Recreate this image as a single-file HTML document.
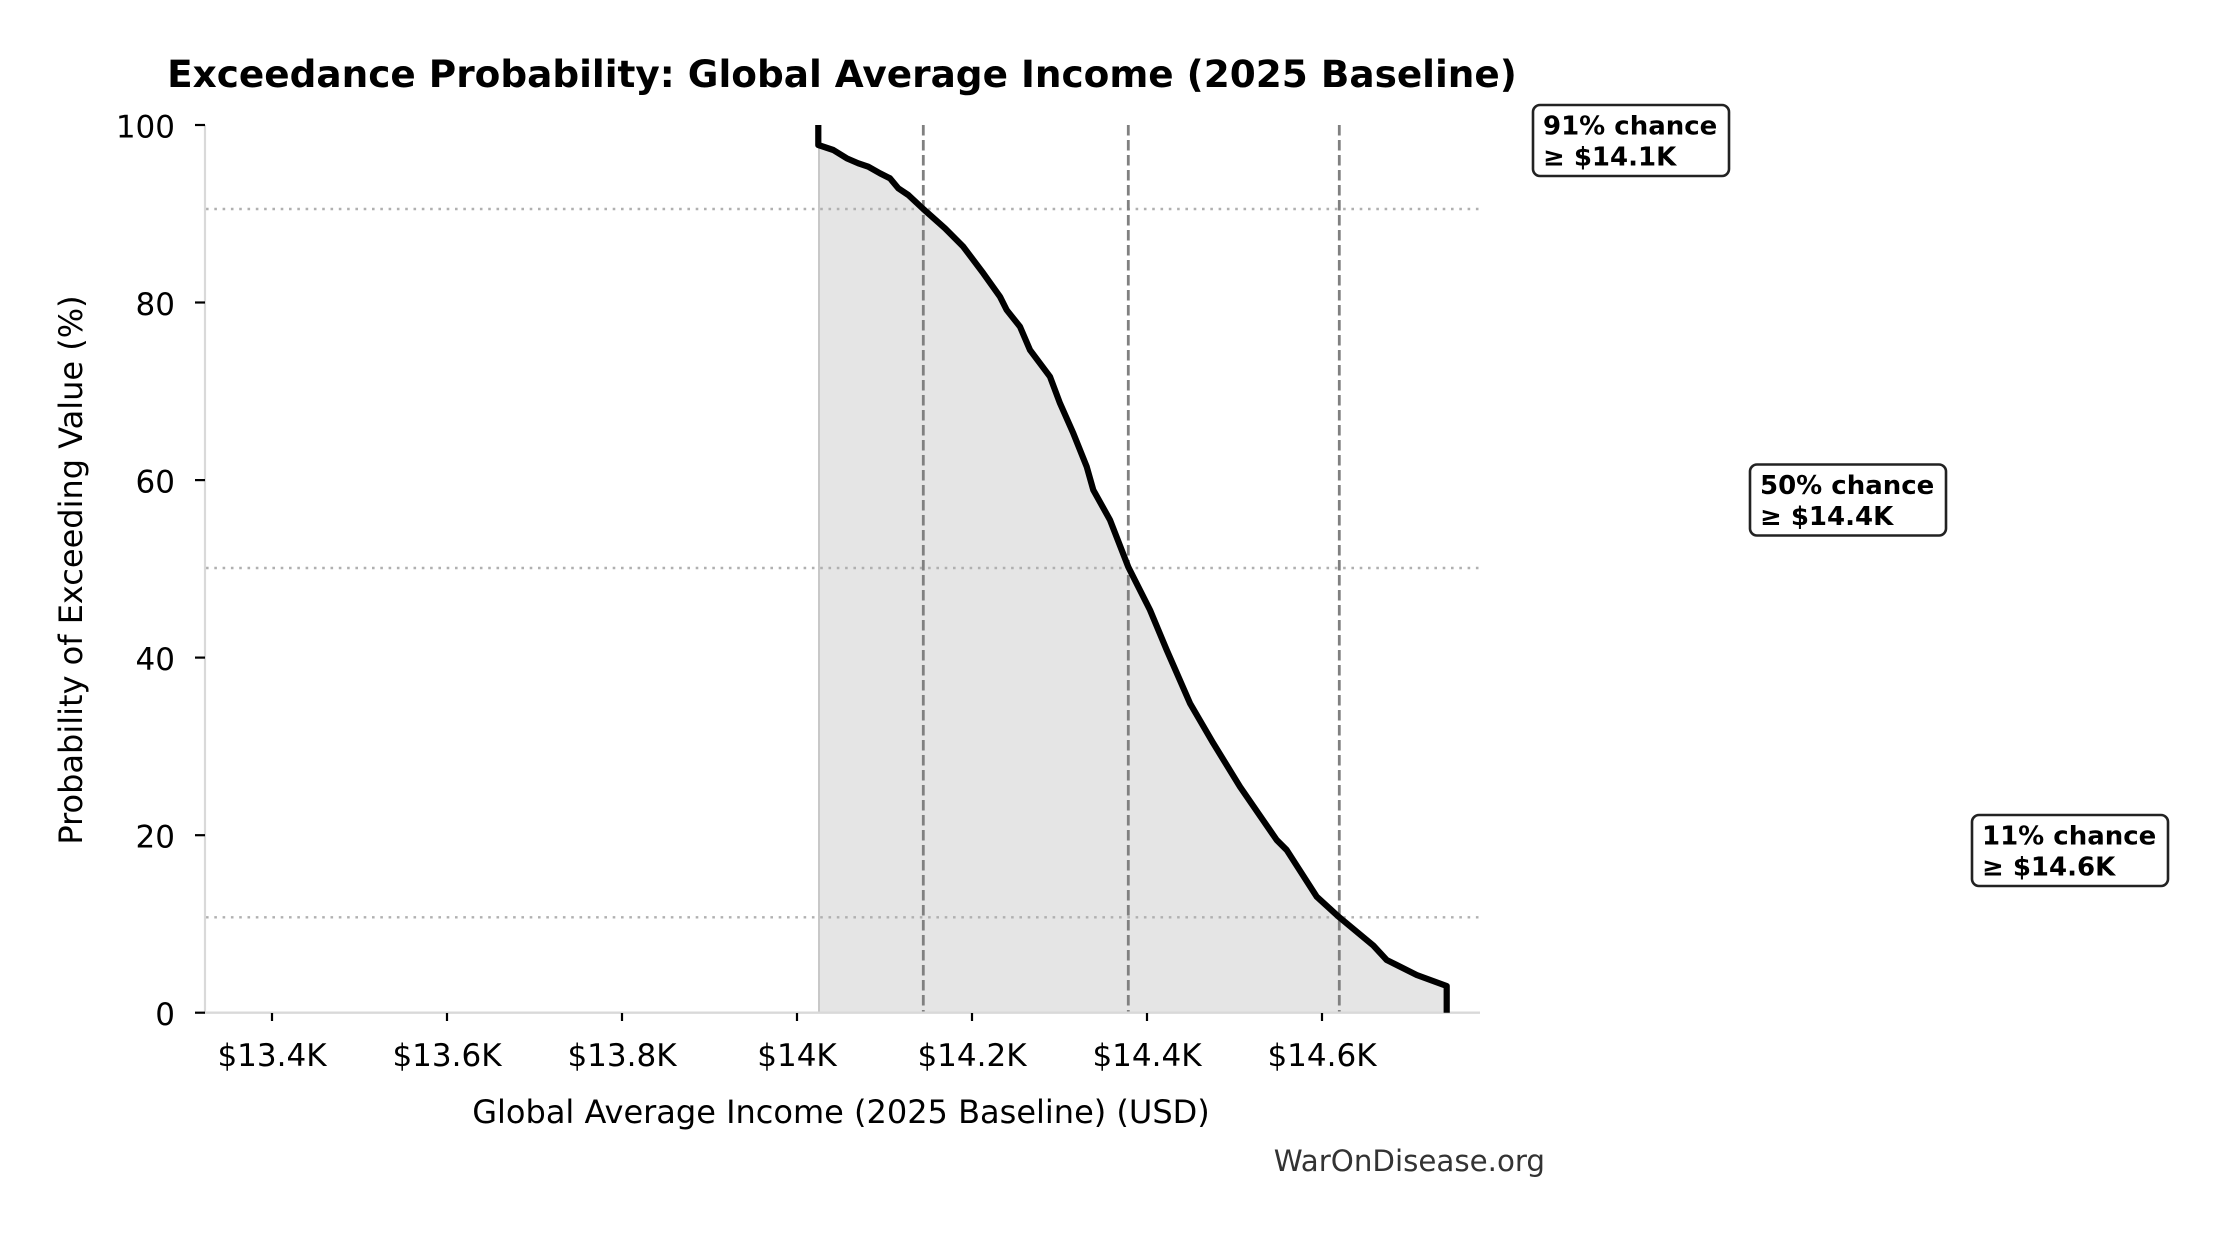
<!DOCTYPE html>
<html>
<head>
<meta charset="utf-8">
<style>
  html, body { margin: 0; padding: 0; background: #ffffff; }
  svg { display: block; }
  text { font-family: "DejaVu Sans", "Liberation Sans", sans-serif; }
</style>
</head>
<body>
<svg xmlns="http://www.w3.org/2000/svg" width="2215" height="1234" viewBox="0 0 2215 1234">
  <rect x="0" y="0" width="2215" height="1234" fill="#ffffff"/>

  <!-- Title -->
  <text x="842" y="87" font-size="37.4" font-weight="bold" text-anchor="middle" fill="#000">Exceedance Probability: Global Average Income (2025 Baseline)</text>

  <!-- Fill under curve -->
  <polygon fill="#e5e5e5" points="818.3,125 818.3,145 833.3,150 846.7,158.3 858.3,163.3 868.3,166.7 880,173.3 890,178.3 898.3,188.3 908.3,195 923.3,209 945,228.3 963.3,246.7 983.3,273.3 1000,296.7 1006.7,310 1020,326.7 1030,350 1050,376.7 1060,403.3 1073.3,433.3 1086.7,466.7 1093.3,490 1110,520 1128.3,567 1150,610 1166.7,650 1190,703.3 1213.3,743.3 1240,786.7 1276.7,840 1286.7,850 1316.7,896.7 1339.3,917.3 1373.3,945.5 1386.7,960 1416.7,975 1446.7,986 1446.7,1012.7 818.3,1012.7"/>
  <line x1="819" y1="145" x2="819" y2="1012.7" stroke="#c8c8c8" stroke-width="2"/>

  <!-- Horizontal dotted reference lines -->
  <g stroke="#b0b0b0" stroke-width="2.4" stroke-dasharray="2.6 5.7" fill="none">
    <line x1="206" y1="209" x2="1480" y2="209"/>
    <line x1="206" y1="568" x2="1480" y2="568"/>
    <line x1="206" y1="917.3" x2="1480" y2="917.3"/>
  </g>

  <!-- Vertical dashed percentile lines -->
  <g stroke="#808080" stroke-width="2.8" stroke-dasharray="10.5 4.5" fill="none">
    <line x1="923.3" y1="125" x2="923.3" y2="1012.7"/>
    <line x1="1128.3" y1="125" x2="1128.3" y2="1012.7"/>
    <line x1="1339.3" y1="125" x2="1339.3" y2="1012.7"/>
  </g>

  <!-- Spines -->
  <line x1="205" y1="125" x2="205" y2="1013.5" stroke="#d9d9d9" stroke-width="2.2"/>
  <line x1="204" y1="1012.7" x2="1480" y2="1012.7" stroke="#d9d9d9" stroke-width="2.4"/>

  <!-- Curve -->
  <polyline fill="none" stroke="#000" stroke-width="6.2" stroke-linejoin="round" stroke-linecap="butt"
    points="818.3,125 818.3,145 833.3,150 846.7,158.3 858.3,163.3 868.3,166.7 880,173.3 890,178.3 898.3,188.3 908.3,195 923.3,209 945,228.3 963.3,246.7 983.3,273.3 1000,296.7 1006.7,310 1020,326.7 1030,350 1050,376.7 1060,403.3 1073.3,433.3 1086.7,466.7 1093.3,490 1110,520 1128.3,567 1150,610 1166.7,650 1190,703.3 1213.3,743.3 1240,786.7 1276.7,840 1286.7,850 1316.7,896.7 1339.3,917.3 1373.3,945.5 1386.7,960 1416.7,975 1446.7,986 1446.7,1012.7"/>

  <!-- Y ticks -->
  <g stroke="#000" stroke-width="2.2">
    <line x1="195" y1="1012.7" x2="205" y2="1012.7"/>
    <line x1="195" y1="835.2" x2="205" y2="835.2"/>
    <line x1="195" y1="657.6" x2="205" y2="657.6"/>
    <line x1="195" y1="480.1" x2="205" y2="480.1"/>
    <line x1="195" y1="302.5" x2="205" y2="302.5"/>
    <line x1="195" y1="125" x2="205" y2="125"/>
  </g>
  <g font-size="31" text-anchor="end" fill="#000">
    <text x="175" y="1025.2">0</text>
    <text x="175" y="847.7">20</text>
    <text x="175" y="670.1">40</text>
    <text x="175" y="492.6">60</text>
    <text x="175" y="315">80</text>
    <text x="175" y="137.5">100</text>
  </g>

  <!-- X ticks -->
  <g stroke="#000" stroke-width="2.2">
    <line x1="272" y1="1013" x2="272" y2="1021"/>
    <line x1="447" y1="1013" x2="447" y2="1021"/>
    <line x1="622" y1="1013" x2="622" y2="1021"/>
    <line x1="797" y1="1013" x2="797" y2="1021"/>
    <line x1="972" y1="1013" x2="972" y2="1021"/>
    <line x1="1147" y1="1013" x2="1147" y2="1021"/>
    <line x1="1322" y1="1013" x2="1322" y2="1021"/>
  </g>
  <g font-size="31" text-anchor="middle" fill="#000">
    <text x="272" y="1066">$13.4K</text>
    <text x="447" y="1066">$13.6K</text>
    <text x="622" y="1066">$13.8K</text>
    <text x="797" y="1066">$14K</text>
    <text x="972" y="1066">$14.2K</text>
    <text x="1147" y="1066">$14.4K</text>
    <text x="1322" y="1066">$14.6K</text>
  </g>

  <!-- Axis labels -->
  <text x="841" y="1123" font-size="32" text-anchor="middle" fill="#000">Global Average Income (2025 Baseline) (USD)</text>
  <text transform="translate(82,570) rotate(-90)" font-size="32" text-anchor="middle" fill="#000">Probability of Exceeding Value (%)</text>

  <!-- Annotation boxes -->
  <g>
    <rect x="1533" y="105" width="196" height="71" rx="7" ry="7" fill="#fff" stroke="#222" stroke-width="2.6"/>
    <text x="1543" y="134.5" font-size="26" font-weight="bold" fill="#000">91% chance</text>
    <text x="1543" y="165.5" font-size="26" font-weight="bold" fill="#000">≥ $14.1K</text>
  </g>
  <g>
    <rect x="1750" y="464.5" width="196" height="71" rx="7" ry="7" fill="#fff" stroke="#222" stroke-width="2.6"/>
    <text x="1760" y="494" font-size="26" font-weight="bold" fill="#000">50% chance</text>
    <text x="1760" y="525" font-size="26" font-weight="bold" fill="#000">≥ $14.4K</text>
  </g>
  <g>
    <rect x="1972" y="815" width="196" height="71" rx="7" ry="7" fill="#fff" stroke="#222" stroke-width="2.6"/>
    <text x="1982" y="844.5" font-size="26" font-weight="bold" fill="#000">11% chance</text>
    <text x="1982" y="875.5" font-size="26" font-weight="bold" fill="#000">≥ $14.6K</text>
  </g>

  <!-- Watermark -->
  <text x="1545" y="1171" font-size="29.3" text-anchor="end" fill="#333">WarOnDisease.org</text>
</svg>
</body>
</html>
